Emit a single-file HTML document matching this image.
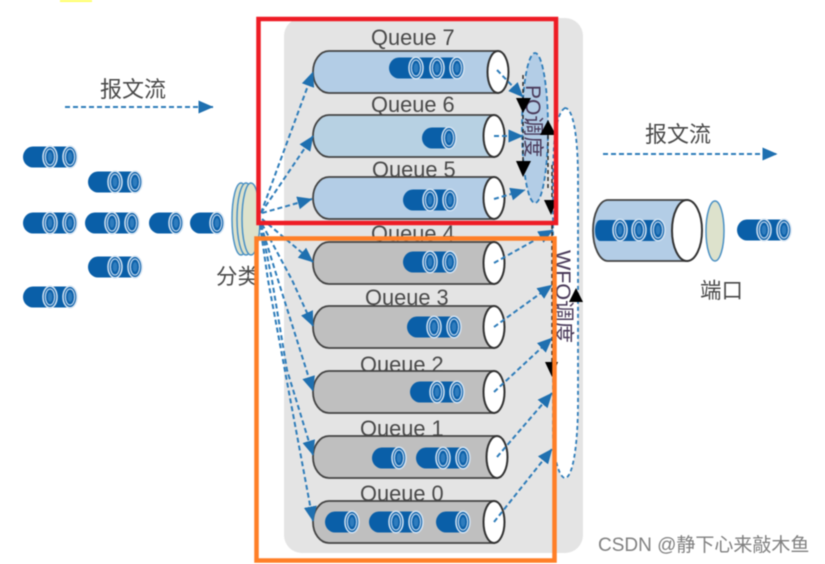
<!DOCTYPE html>
<html>
<head>
<meta charset="utf-8">
<style>
html,body{margin:0;padding:0;background:#fff;width:825px;height:564px;overflow:hidden}
svg{display:block;filter:blur(0.55px)}
text{font-family:"Liberation Sans","Noto Sans CJK SC",sans-serif}
.q{font-size:21.8px;fill:#4a4a4a}
.c{font-size:21.5px;fill:#4a4a4a}
.cyl{stroke:#444;stroke-width:1.8}
.end{fill:#fff;stroke:#333;stroke-width:2}
.b{fill:none;stroke:#2f7dba;stroke-width:2;stroke-dasharray:5 3}
.k{fill:none;stroke:#222;stroke-width:1.4;stroke-dasharray:4 3}
</style>
</head>
<body>
<svg width="825" height="564" viewBox="0 0 825 564" xmlns="http://www.w3.org/2000/svg">
<defs>
<marker id="a" viewBox="0 0 15 13" refX="14.500" refY="6.500" markerWidth="15" markerHeight="13" markerUnits="userSpaceOnUse" orient="auto"><path d="M0 0L15 6.500L0 13Z" fill="#1f70b0"/></marker>
<g id="r">
<ellipse cx="0" cy="0" rx="7" ry="10.800" fill="#0a5fa8" stroke="#d4e3f2" stroke-width="1.500"/>
<ellipse cx="0" cy="0" rx="4.600" ry="8" fill="#0a5fa8" stroke="#b5cfe9" stroke-width="1.300"/>
<ellipse cx="0" cy="0" rx="2.300" ry="5" fill="#2f7cbd"/>
</g>
<path id="s1" d="M10 -10.500H27V10.500H10A10 10.500 0 0 1 10 -10.500Z" fill="#0a5fa8"/>
<path id="s2" d="M10 -10.500H47V10.500H10A10 10.500 0 0 1 10 -10.500Z" fill="#0a5fa8"/>
<path id="s3" d="M10 -10.500H68V10.500H10A10 10.500 0 0 1 10 -10.500Z" fill="#0a5fa8"/>
<g id="p1"><use href="#s1"/><use href="#r" x="27"/></g>
<g id="p2"><use href="#s2"/><use href="#r" x="27"/><use href="#r" x="47"/></g>
<g id="p3"><use href="#s3"/><use href="#r" x="27"/><use href="#r" x="48"/><use href="#r" x="68"/></g>
</defs>

<rect x="60" y="0" width="32" height="2" fill="#ffff66"/>
<rect x="284" y="18" width="299" height="535" rx="18" fill="#e4e4e4"/>

<!-- flow arrows -->
<text x="100" y="97" class="c" style="font-size:22px">报文流</text>
<line x1="65" y1="107" x2="213" y2="107" class="b" marker-end="url(#a)"/>
<text x="645" y="142" class="c" style="font-size:22px">报文流</text>
<line x1="603" y1="154" x2="777" y2="154" class="b" marker-end="url(#a)"/>

<!-- left packets -->
<use href="#p2" x="23" y="157"/>
<use href="#p2" x="88" y="182"/>
<use href="#p2" x="23" y="223"/>
<use href="#p2" x="85" y="223"/>
<use href="#p1" x="149" y="223"/>
<use href="#p1" x="190" y="223"/>
<use href="#p2" x="88" y="267"/>
<use href="#p2" x="23" y="297"/>

<!-- classifier -->
<g fill="#dde2cc" stroke="#4a90c4" stroke-width="1.500">
<ellipse cx="241" cy="219" rx="9" ry="36"/>
<ellipse cx="246" cy="219" rx="9" ry="36"/>
<ellipse cx="251" cy="219" rx="9" ry="36"/>
</g>
<text x="216" y="284" class="c">分类</text>

<!-- WFQ oval -->
<path d="M565 108C558 112 553 130 553 180L553 430C553 460 560 478 565 478C572 478 578 450 578 400L578 180C578 130 572 108 565 108Z" fill="#fff" stroke="#2f7dba" stroke-width="1.800" stroke-dasharray="4 3"/>
<text transform="translate(556,250) rotate(90)" fill="#4a3a5a" style="font-size:21.500px">WFQ调度</text>

<!-- PQ oval -->
<ellipse cx="535" cy="128" rx="13" ry="75" fill="#b3cde6" stroke="#2f7dba" stroke-width="1.800" stroke-dasharray="5 3"/>
<text transform="translate(526,85) rotate(90)" fill="#4a3a5a" style="font-size:21px">PQ调度</text>

<!-- black dashed scheduling -->
<path class="k" d="M523 75V100M523 115V162M548 135V190M552 165V200M552 225V362"/>
<path d="M516 98H531L523 113Z M516 161H531L523 177Z M540 135H556L548 120Z M544 200H557L551 215Z M569 302H583L576 288Z M545 362H558L552 377Z" fill="#000"/>

<!-- Queues -->
<text class="q" x="371" y="45">Queue 7</text>
<text class="q" x="371" y="112">Queue 6</text>
<text class="q" x="372" y="177">Queue 5</text>
<text class="q" x="371" y="241">Queue 4</text>
<text class="q" x="365" y="305">Queue 3</text>
<text class="q" x="360" y="372">Queue 2</text>
<text class="q" x="360" y="436">Queue 1</text>
<text class="q" x="360" y="501">Queue 0</text>

<g class="cyl">
<path d="M329 51H498V93H329A16 21 0 0 1 329 51Z" fill="#b3cde6"/>
<path d="M329 115H494V157H329A16 21 0 0 1 329 115Z" fill="#b7d1e3"/>
<path d="M329 177H494V219H329A16 21 0 0 1 329 177Z" fill="#b3cde6"/>
<path d="M329 242H494V284H329A16 21 0 0 1 329 242Z" fill="#bfbfbf"/>
<path d="M329 306H494V348H329A16 21 0 0 1 329 306Z" fill="#bfbfbf"/>
<path d="M329 371H494V413H329A16 21 0 0 1 329 371Z" fill="#bfbfbf"/>
<path d="M329 436H497V478H329A16 21 0 0 1 329 436Z" fill="#bfbfbf"/>
<path d="M329 501H494V543H329A16 21 0 0 1 329 501Z" fill="#bfbfbf"/>
</g>
<ellipse class="end" cx="498" cy="72" rx="10.500" ry="21"/>
<ellipse class="end" cx="494" cy="136" rx="10.500" ry="21"/>
<ellipse class="end" cx="494" cy="198" rx="10.500" ry="21"/>
<ellipse class="end" cx="494" cy="263" rx="10.500" ry="21"/>
<ellipse class="end" cx="494" cy="327" rx="10.500" ry="21"/>
<ellipse class="end" cx="494" cy="392" rx="10.500" ry="21"/>
<ellipse class="end" cx="497" cy="457" rx="10.500" ry="21"/>
<ellipse class="end" cx="494" cy="522" rx="10.500" ry="21"/>

<!-- queue packets -->
<use href="#p3" x="389" y="68"/>
<use href="#p1" x="422" y="138"/>
<use href="#p2" x="403" y="200"/>
<use href="#p2" x="403" y="262"/>
<use href="#p2" x="407" y="327"/>
<use href="#p2" x="410" y="392"/>
<use href="#p1" x="372" y="458"/>
<use href="#p2" x="416" y="458"/>
<use href="#p1" x="325" y="522"/>
<use href="#p2" x="369" y="522"/>
<use href="#p1" x="436" y="522"/>

<!-- input connectors -->
<path class="b" d="M261 213L313 72" marker-end="url(#a)"/>
<path class="b" d="M261 213L313 136" marker-end="url(#a)"/>
<path class="b" d="M262 213L312 199" marker-end="url(#a)"/>
<path class="b" d="M262 219L313 262" marker-end="url(#a)"/>
<path class="b" d="M262 224L292 280L313 326" marker-end="url(#a)"/>
<path class="b" d="M261 225L278 280L313 391" marker-end="url(#a)"/>
<path class="b" d="M261 225L272 280L287 370L313 455" marker-end="url(#a)"/>
<path class="b" d="M260 225L268 280L313 521" marker-end="url(#a)"/>

<!-- output connectors -->
<path class="b" d="M497 70L523 97" marker-end="url(#a)"/>
<path class="b" d="M494 136L523 136" marker-end="url(#a)"/>
<path class="b" d="M494 199L525 190" marker-end="url(#a)"/>
<path class="b" d="M494 263L553 230" marker-end="url(#a)"/>
<path class="b" d="M494 327L552 285" marker-end="url(#a)"/>
<path class="b" d="M494 392L552 338" marker-end="url(#a)"/>
<path class="b" d="M497 457L552 393" marker-end="url(#a)"/>
<path class="b" d="M494 522L552 449" marker-end="url(#a)"/>

<!-- frames -->
<rect x="258.500" y="19" width="297.500" height="204" fill="none" stroke="#ee1c25" stroke-width="4.500"/>
<rect x="256.500" y="238.500" width="298" height="322" fill="none" stroke="#ff7f27" stroke-width="4.500"/>

<!-- port -->
<path d="M608 200H687V261H608A15 30.500 0 0 1 608 200Z" fill="#b3cde6" stroke="#444" stroke-width="1.800"/>
<ellipse cx="687" cy="230.500" rx="15" ry="30.500" class="end"/>
<path d="M600 220H620V241H600A5 10.500 0 0 1 600 220Z" fill="#0a5fa8"/>
<path d="M620 220H658V241H620Z" fill="#0a5fa8"/>
<use href="#r" x="620" y="230"/>
<use href="#r" x="639" y="230"/>
<use href="#r" x="658" y="230"/>
<ellipse cx="715" cy="231" rx="9" ry="30" fill="#dde2cc" stroke="#4a90c4" stroke-width="1.500"/>
<use href="#p2" x="737" y="230"/>
<text x="700" y="298" class="c">端口</text>

<text x="598" y="551" fill="#808080" style="font-size:19px">CSDN @静下心来敲木鱼</text>
</svg>
</body>
</html>
